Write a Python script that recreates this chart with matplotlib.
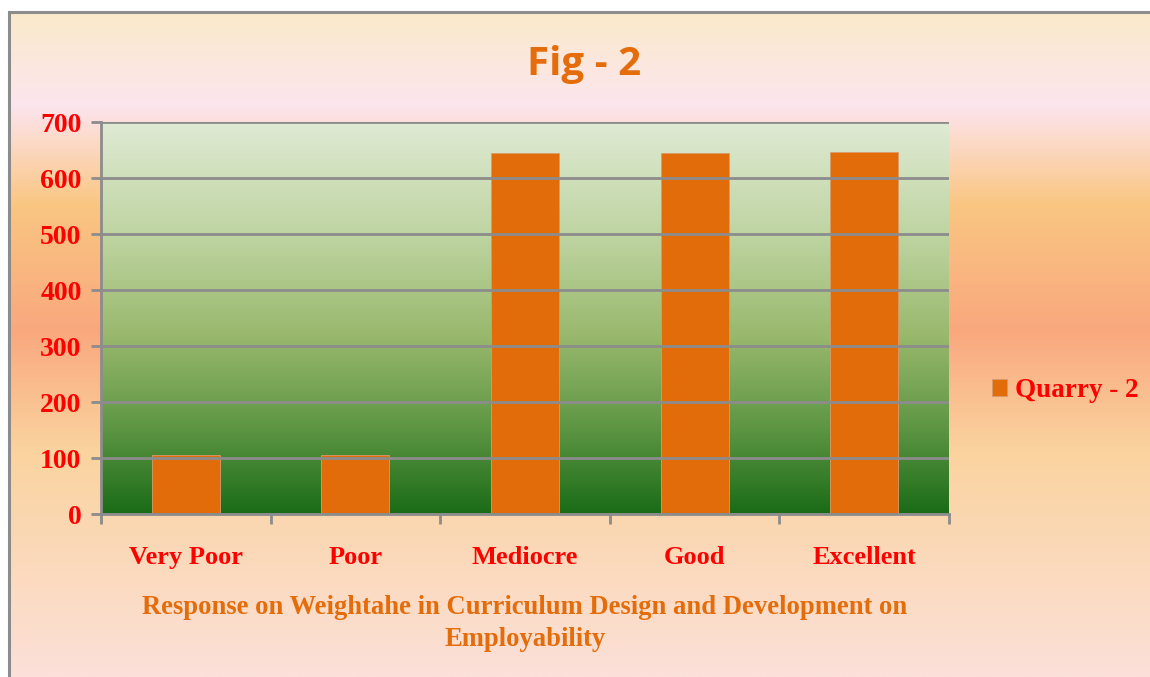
import numpy as np
import matplotlib
matplotlib.use('Agg')
import matplotlib.pyplot as plt
from matplotlib.colors import LinearSegmentedColormap
from matplotlib.patches import Rectangle

# data
categories = ['Very Poor', 'Poor', 'Mediocre', 'Good', 'Excellent']
quarry_2 = [105, 105, 644, 645, 647]
series_name = 'Quarry - 2'
yticks = [0, 100, 200, 300, 400, 500, 600, 700]

title = 'Fig - 2'
xlabel = 'Response on Weightahe in Curriculum Design and Development on\nEmployability'

bar_color = '#E36C0A'
label_red = '#FF0000'
orange_text = '#E46C0A'

W, H = 1150, 677
fig = plt.figure(figsize=(W / 100, H / 100), dpi=100, facecolor='white')

# figure background gradient inside the frame
bg = fig.add_axes([8 / W, 0, 1 - 8 / W, 1 - 11 / H], zorder=-10)
bg_cmap = LinearSegmentedColormap.from_list('bg', [
    (0.00, '#FAEACB'),
    (0.14, '#FDE5EE'),
    (0.29, '#FAC682'),
    (0.48, '#F9A87E'),
    (0.66, '#FAD39E'),
    (1.00, '#FCE0D9')])
bg.imshow(np.linspace(0, 1, 400).reshape(-1, 1), aspect='auto', cmap=bg_cmap,
          extent=[0, 1, 0, 1], origin='upper')
bg.set_xlim(0, 1)
bg.set_ylim(0, 1)
bg.axis('off')
fig.add_artist(Rectangle((8.5 / W, -0.05), 1.5, 1 - 11.5 / H + 0.05, transform=fig.transFigure,
                         fill=False, edgecolor='#8C8C8C', linewidth=2.2, zorder=5))

# plot area
ax = fig.add_axes([101 / W, 1 - 514 / H, (949 - 101) / W, (514 - 122) / H])
ax_cmap = LinearSegmentedColormap.from_list('ax', [
    (0.00, '#DFEAD3'),
    (0.30, '#BDD39F'),
    (0.55, '#98B86C'),
    (0.78, '#5E9644'),
    (1.00, '#1B6C17')])
x = np.arange(len(categories))
ax.set_xlim(-0.5, len(categories) - 0.5)
ax.set_ylim(0, 700)
ax.imshow(np.linspace(0, 1, 400).reshape(-1, 1), aspect='auto', cmap=ax_cmap,
          extent=[-0.5, len(categories) - 0.5, 0, 700], origin='upper', zorder=0)
ax.set_yticks(yticks)
ax.yaxis.grid(True, color='#8C8C8C', linewidth=2)
ax.set_axisbelow(False)
for line in ax.get_ygridlines():
    line.set_zorder(1)

ax.bar(x, quarry_2, width=0.4, color=bar_color, edgecolor='#D99A6C', linewidth=0.6,
       zorder=2, label=series_name)

for s in ['top', 'right']:
    ax.spines[s].set_visible(False)
for s in ['left', 'bottom']:
    ax.spines[s].set_color('#8C8C8C')
    ax.spines[s].set_linewidth(2)
    ax.spines[s].set_zorder(3)

ax.set_xticks(np.arange(len(categories) + 1) - 0.5, minor=False)
ax.set_xticklabels([])
ax.set_xticks(x, minor=True)
ax.set_xticklabels(categories, minor=True)
ax.tick_params(axis='x', which='major', length=7, width=2, color='#8C8C8C')
ax.tick_params(axis='x', which='minor', length=0, pad=23)
ax.tick_params(axis='y', length=7, width=2, color='#8C8C8C', pad=7)
for lab in ax.get_xticklabels(minor=True):
    lab.set_fontfamily('Liberation Serif')
    lab.set_fontweight('bold')
    lab.set_fontsize(19)
    lab.set_color(label_red)
for lab in ax.get_yticklabels():
    lab.set_fontfamily('Liberation Serif')
    lab.set_fontweight('bold')
    lab.set_fontsize(20)
    lab.set_color(label_red)

ax.set_xlabel(xlabel, fontfamily='Liberation Serif', fontweight='bold', fontsize=19.2,
              color=orange_text, labelpad=19, linespacing=1.35)

fig.text(584 / W, 1 - 64 / H, title, ha='center', va='center', fontfamily='Open Sans',
         fontweight='bold', fontsize=29, color=orange_text)

leg = ax.legend(loc='center left', bbox_to_anchor=(1.022, 0.315), frameon=False,
                prop={'family': 'Liberation Serif', 'weight': 'bold', 'size': 19.5},
                handlelength=0.55, handleheight=0.55, handletextpad=0.3)
for t in leg.get_texts():
    t.set_color(label_red)

fig.savefig('out.png', dpi=100)
